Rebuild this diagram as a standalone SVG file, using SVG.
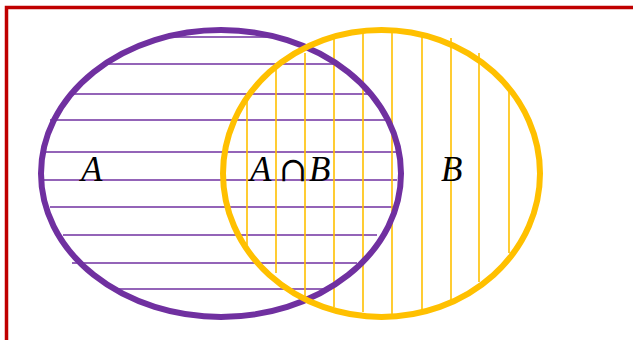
<svg xmlns="http://www.w3.org/2000/svg" width="633" height="340" viewBox="0 0 633 340">
<style>
.frame{fill:none;stroke:#C00000;stroke-width:3.5}
.hl{stroke:#7030A0;stroke-width:1.4}
.vl{stroke:#FFC000;stroke-width:1.6}
.ea{fill:none;stroke:#7030A0;stroke-width:6}
.eb{fill:none;stroke:#FFC000;stroke-width:6}
.lbl{font-family:"Liberation Serif","Times New Roman",serif;font-style:italic;font-size:35px;fill:#000}
.op{font-style:normal;font-family:"DejaVu Serif",serif;font-size:34px}
</style>
<rect width="633" height="340" fill="#fff"/>
<path class="frame" d="M6.5,340 V7.5 H633"/>
<g id="hatching">
<g id="hatch-A">
<line class="hl" x1="166" y1="37" x2="275" y2="37"/>
<line class="hl" x1="108" y1="64" x2="335" y2="64"/>
<line class="hl" x1="74" y1="94" x2="370" y2="94"/>
<line class="hl" x1="50" y1="120" x2="387" y2="120"/>
<line class="hl" x1="45" y1="152" x2="397" y2="152"/>
<line class="hl" x1="44" y1="180" x2="397" y2="180"/>
<line class="hl" x1="50" y1="207" x2="393" y2="207"/>
<line class="hl" x1="63" y1="235" x2="377" y2="235"/>
<line class="hl" x1="72" y1="263" x2="357" y2="263"/>
<line class="hl" x1="118" y1="289" x2="327" y2="289"/>
</g>
<g id="hatch-B">
<line class="vl" x1="247" y1="97" x2="247" y2="245"/>
<line class="vl" x1="276" y1="63" x2="276" y2="273"/>
<line class="vl" x1="305" y1="53" x2="305" y2="297"/>
<line class="vl" x1="334" y1="38" x2="334" y2="307"/>
<line class="vl" x1="363" y1="33" x2="363" y2="312"/>
<line class="vl" x1="392" y1="32" x2="392" y2="315"/>
<line class="vl" x1="422" y1="36" x2="422" y2="310"/>
<line class="vl" x1="451" y1="38" x2="451" y2="300"/>
<line class="vl" x1="479" y1="53" x2="479" y2="282"/>
<line class="vl" x1="509" y1="90" x2="509" y2="253"/>
</g>
</g>
<g id="setA">
<ellipse class="ea" cx="221" cy="173.5" rx="180" ry="143.5"/>
</g>
<g id="setB">
<ellipse class="eb" cx="381.5" cy="173.5" rx="158.5" ry="143.5"/>
</g>
<g id="labels">
<text class="lbl" x="81" y="181">A</text>
<text class="lbl" x="250" y="181">A<tspan class="op" x="279">∩</tspan><tspan x="309">B</tspan></text>
<text class="lbl" x="441" y="181">B</text>
</g>
</svg>
